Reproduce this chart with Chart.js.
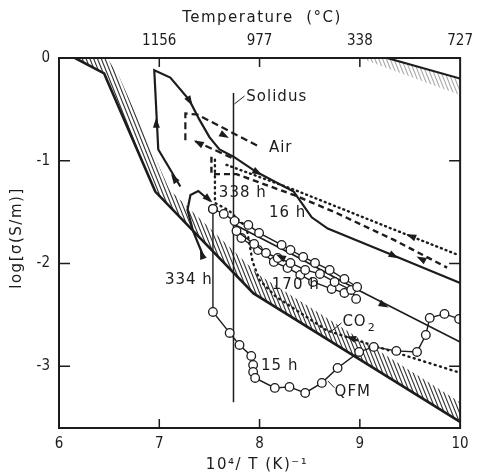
<!DOCTYPE html>
<html>
<head>
<meta charset="utf-8">
<script src="https://cdn.jsdelivr.net/npm/chart.js@4/dist/chart.umd.min.js"></script>
<style>
  html, body { margin: 0; padding: 0; background: #fff; }
  #wrap { width: 481px; height: 474px; }
</style>
</head>
<body>
<div id="wrap"><canvas id="chart"></canvas></div>
<script>
// ===============================
// Datos (x = 10^4/T, y = log sigma)
// ===============================
const xTicks     = [6, 7, 8, 9, 10];
const tempTicks  = [7, 8, 9, 10];
const tempLabels = ["1156", "977", "338", "727"];
const yTicks     = [0, -1, -2, -3];

// banda rayada (límite grueso inferior y borde superior del rayado)
const bandLine  = [[6.16,0],[6.45,-0.15],[6.96,-1.30],[7.94,-2.29],[10,-3.54]];
const bandUpper = [[6.48,0],[6.60,-0.18],[7.10,-1.28],[7.99,-2.11],[10,-3.35]];
const cornerLine  = [[9.27,0],[10,-0.20]];
const cornerHatch = [[9.0,0],[9.27,0],[10,-0.20],[10,-0.36]];

const solidus = [[7.74,-0.34],[7.74,-3.35]];

// experimento en aire (línea gruesa continua)
const airSolid = [[7.21,-1.25],[6.99,-0.89],[6.95,-0.12],[7.11,-0.19],[7.30,-0.41],[7.40,-0.60],
  [7.50,-0.77],[7.60,-0.89],[7.74,-0.96],[7.97,-1.11],[8.34,-1.30],[8.52,-1.55],[8.68,-1.66],
  [9.33,-1.92],[10,-2.19]];
const airDash1 = [[7.26,-0.80],[7.26,-0.54],[7.38,-0.55],[8.01,-0.87]];
const airDash2 = [[7.36,-0.81],[7.72,-0.97]];
const airDash3 = [[7.52,-0.96],[7.52,-1.13],[7.77,-1.13],[8.36,-1.34],[8.75,-1.50],[9.34,-1.77],[9.87,-2.04]];
const airDot   = [[7.67,-1.04],[8.34,-1.28],[9.29,-1.65],[9.99,-1.92]];

// 170 h / CO2 (punteada)
const co2Dot = [[7.555,-0.99],[7.555,-1.41],[7.69,-1.48],[7.87,-1.65],[7.93,-1.98],[8.00,-2.16],
  [8.16,-2.32],[8.67,-2.65],[9.11,-2.79],[9.60,-2.94],[9.99,-3.06]];

// 16 h (línea fina)
const run16 = [[7.72,-1.605],[8.357,-1.926],[8.963,-2.247],[10,-2.763]];

// 334 h (gancho)
const run334 = [[7.447,-1.946],[7.34,-1.693],[7.281,-1.479],[7.311,-1.333],[7.389,-1.294],[7.506,-1.391]];

// círculos (338 h)
const circ1 = [[7.535,-1.469],[7.643,-1.517],[7.751,-1.586],[7.888,-1.624],[7.995,-1.702],[8.22,-1.819],
  [8.308,-1.868],[8.435,-1.936],[8.553,-1.994],[8.699,-2.062],[8.846,-2.15],[8.973,-2.228]];
const circ2 = [[7.77,-1.683],[7.946,-1.809],[8.064,-1.897],[8.181,-1.946],[8.308,-1.994],[8.455,-2.062],
  [8.602,-2.101],[8.748,-2.179],[8.914,-2.257],[8.963,-2.344]];
const circ3 = [[7.819,-1.751],[7.985,-1.868],[8.142,-1.984],[8.279,-2.043],[8.406,-2.111],[8.533,-2.179],
  [8.719,-2.247],[8.846,-2.286]];

// QFM 15 h (círculos)
const qfm = [[7.535,-1.469],[7.535,-2.471],[7.702,-2.675],[7.80,-2.792],[7.917,-2.899],[7.936,-2.986],
  [7.936,-3.054],[7.956,-3.113],[8.152,-3.21],[8.298,-3.20],[8.455,-3.259],[8.621,-3.161],[8.778,-3.016],
  [8.993,-2.86],[9.139,-2.811],[9.364,-2.85],[9.57,-2.86],[9.658,-2.695],[9.697,-2.529],[9.844,-2.49],[9.99,-2.539]];

// flechas [desde, hasta]
const arrows = [
  [[7.21,-1.26],[7.14,-1.16]], [[6.975,-0.80],[6.97,-0.62]], [[7.25,-0.33],[7.31,-0.43]],
  [[7.55,-0.70],[7.66,-0.76]], [[7.50,-0.88],[7.38,-0.82]], [[7.90,-1.07],[7.99,-1.12]],
  [[9.25,-1.88],[9.35,-1.93]], [[9.70,-2.00],[9.60,-1.95]], [[9.60,-1.77],[9.50,-1.73]],
  [[9.15,-2.36],[9.25,-2.41]], [[9.00,-2.75],[8.90,-2.72]], [[7.44,-1.33],[7.50,-1.38]],
  [[7.45,-1.98],[7.42,-1.90]], [[8.30,-1.98],[8.20,-1.93]]
];

// textos [texto, x, y]
const notes = [
  ["Solidus", 7.868, -0.38], ["Air", 8.093, -0.875], ["338 h", 7.594, -1.313], ["16 h", 8.093, -1.508],
  ["334 h", 7.056, -2.16], ["170 h", 8.122, -2.208], ["15 h", 8.015, -2.996], ["QFM", 8.748, -3.249]
];
const leaders = [
  [[7.75,-0.447],[7.85,-0.37]], [[8.72,-2.656],[8.817,-2.578]], [[8.68,-3.142],[8.748,-3.21]]
];

const INK = "#1c1c1c";
const FONT = '"DejaVu Sans", sans-serif';
const FONT_N = '"DejaVu Sans Condensed", "DejaVu Sans", sans-serif';
const pts = a => a.map(([x,y]) => ({x, y}));

// ===============================
// Plugins: rayado, marco, flechas, textos
// ===============================
const px = (c, x, y) => [c.scales.x.getPixelForValue(x), c.scales.y.getPixelForValue(y)];

function hatch(c, poly, color) {
  const ctx = c.ctx, a = c.chartArea;
  ctx.save();
  ctx.beginPath(); ctx.rect(a.left, a.top, a.right - a.left, a.bottom - a.top); ctx.clip();
  ctx.beginPath();
  poly.forEach(([x,y], i) => { const [X,Y] = px(c,x,y); i ? ctx.lineTo(X,Y) : ctx.moveTo(X,Y); });
  ctx.closePath(); ctx.clip();
  ctx.strokeStyle = color; ctx.lineWidth = 1.1;
  const h = a.bottom - a.top;
  for (let k = -300; k < 700; k += 3.8) {
    ctx.beginPath(); ctx.moveTo(a.left + k, a.top); ctx.lineTo(a.left + k + h * 0.4, a.bottom); ctx.stroke();
  }
  ctx.restore();
}

const decor = {
  id: "decor",
  beforeDatasetsDraw(c) {
    hatch(c, bandLine.concat(bandUpper.slice().reverse()), "#333");
    hatch(c, cornerHatch, "#aaa");
  },
  afterDatasetsDraw(c) {
    const ctx = c.ctx, a = c.chartArea;
    ctx.save();
    ctx.fillStyle = INK; ctx.strokeStyle = INK;
    // flechas
    for (const [p0, p1] of arrows) {
      const [x0,y0] = px(c, ...p0), [x1,y1] = px(c, ...p1);
      const ang = Math.atan2(y1 - y0, x1 - x0);
      ctx.save(); ctx.translate(x1, y1); ctx.rotate(ang);
      ctx.beginPath(); ctx.moveTo(4, 0); ctx.lineTo(-6, -3.5); ctx.lineTo(-6, 3.5); ctx.closePath(); ctx.fill();
      ctx.restore();
    }
    // líneas guía
    ctx.lineWidth = 1;
    for (const [p0, p1] of leaders) {
      const [x0,y0] = px(c, ...p0), [x1,y1] = px(c, ...p1);
      ctx.beginPath(); ctx.moveTo(x0,y0); ctx.lineTo(x1,y1); ctx.stroke();
    }
    // textos
    ctx.font = "15px " + FONT; ctx.textBaseline = "middle"; ctx.textAlign = "left";
    ctx.letterSpacing = "1px";
    for (const [t, x, y] of notes) { const [X,Y] = px(c, x, y); ctx.fillText(t, X, Y); }
    const [cx, cy] = px(c, 8.826, -2.568);
    ctx.fillText("CO", cx, cy);
    const w = ctx.measureText("CO").width;
    ctx.font = "11px " + FONT; ctx.fillText("2", cx + w + 1, cy + 6);

    // marco y marcas internas
    ctx.lineWidth = 2;
    ctx.strokeRect(a.left, a.top, a.right - a.left, a.bottom - a.top);
    ctx.lineWidth = 1.5;
    for (const v of [7, 8, 9]) {
      const X = c.scales.x.getPixelForValue(v);
      ctx.beginPath(); ctx.moveTo(X, a.bottom); ctx.lineTo(X, a.bottom - 9);
      ctx.moveTo(X, a.top); ctx.lineTo(X, a.top + 9); ctx.stroke();
    }
    for (const v of [-1, -2, -3]) {
      const Y = c.scales.y.getPixelForValue(v);
      ctx.beginPath(); ctx.moveTo(a.left, Y); ctx.lineTo(a.left + 11, Y);
      ctx.moveTo(a.right, Y); ctx.lineTo(a.right - 11, Y); ctx.stroke();
    }
    // títulos
    ctx.font = "15px " + FONT; ctx.letterSpacing = "1.5px"; ctx.textAlign = "center";
    ctx.fillText("Temperature  (°C)", 262, 18);
    ctx.fillText("10⁴/ T (K)⁻¹", 257, 465);
    ctx.save(); ctx.translate(17, 238); ctx.rotate(-Math.PI / 2);
    ctx.fillText("log[σ(S/m)]", 0, 0); ctx.restore();
    ctx.restore();
  }
};

// ===============================
// Gráfico
// ===============================
const line = (data, o = {}) => Object.assign({
  data: pts(data), showLine: true, borderColor: INK, borderWidth: 2.2, pointRadius: 0, tension: 0, fill: false
}, o);
const circ = (data, o = {}) => line(data, Object.assign({
  borderWidth: 1.4, pointRadius: 4.3, pointBackgroundColor: "#fff", pointBorderColor: INK, pointBorderWidth: 1.3
}, o));
const tickFont = { family: FONT_N, size: 15 };

new Chart(document.getElementById("chart"), {
  type: "scatter",
  data: {
    datasets: [
      circ(circ1), circ(circ2), circ(circ3), circ(qfm),
      line(run16, { borderWidth: 1.6 }),
      line(run334),
      line(airSolid),
      line(airDash1, { borderDash: [7, 4] }),
      line(airDash2, { borderDash: [7, 4] }),
      line(airDash3, { borderDash: [6, 4], borderWidth: 2.4 }),
      line(airDot, { borderDash: [1, 4], borderCapStyle: "round", borderWidth: 2.4 }),
      line(co2Dot, { borderDash: [1, 4.5], borderCapStyle: "round", borderWidth: 2.4 }),
      line(solidus, { borderWidth: 1.5 }),
      line(cornerLine, { borderWidth: 2.2 }),
      line(bandLine, { borderWidth: 2.6 })
    ]
  },
  options: {
    responsive: true, maintainAspectRatio: false, animation: false,
    layout: { padding: { right: 13 } },
    plugins: { legend: { display: false }, tooltip: { enabled: false } },
    scales: {
      x: {
        type: "linear", position: "bottom", min: 6, max: 10,
        grid: { display: false, drawTicks: false }, border: { display: false },
        afterBuildTicks: s => { s.ticks = xTicks.map(v => ({ value: v })); },
        afterFit: s => { s.height = 46; },
        ticks: { autoSkip: false, maxRotation: 0, padding: 7, color: INK, font: tickFont }
      },
      x2: {
        type: "linear", position: "top", min: 6, max: 10,
        grid: { display: false, drawTicks: false }, border: { display: false },
        afterBuildTicks: s => { s.ticks = tempTicks.map(v => ({ value: v })); },
        afterFit: s => { s.height = 58; },
        ticks: {
          autoSkip: false, maxRotation: 0, padding: 8, color: INK, font: tickFont,
          callback: v => tempLabels[tempTicks.indexOf(v)] ?? ""
        }
      },
      y: {
        type: "linear", min: -3.6, max: 0,
        grid: { display: false, drawTicks: false }, border: { display: false },
        afterBuildTicks: s => { s.ticks = yTicks.map(v => ({ value: v })); },
        afterFit: s => { s.width = 59; },
        ticks: { padding: 9, color: INK, font: tickFont, callback: v => String(v) }
      }
    }
  },
  plugins: [decor]
});
</script>
</body>
</html>
